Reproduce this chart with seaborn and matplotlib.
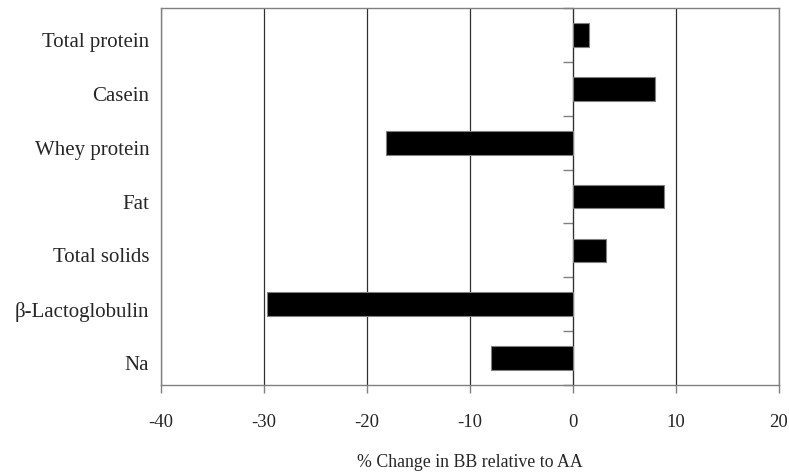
import matplotlib
matplotlib.use('Agg')
import matplotlib.pyplot as plt
import matplotlib.transforms as mtransforms
import seaborn as sns
import pandas as pd
import numpy as np

categories = ['Total protein', 'Casein', 'Whey protein', 'Fat', 'Total solids',
              'β-Lactoglobulin', 'Na']
pct_change = [1.6, 8.0, -18.1, 8.9, 3.2, -29.7, -7.9]
x_ticks = [-40, -30, -20, -10, 0, 10, 20]

df = pd.DataFrame({'component': categories, 'change': pct_change})

sns.set_style('white')
plt.rcParams['font.family'] = ['Liberation Serif', 'DejaVu Serif']

fig = plt.figure(figsize=(7.89, 4.73), dpi=100)
ax = fig.add_axes([0.204, 0.186, 0.783, 0.797])

sns.barplot(data=df, x='change', y='component', orient='h', color='black',
            width=0.44, edgecolor='#808080', linewidth=0.8, saturation=1, ax=ax, zorder=3)

ax.set_xlim(-40, 20)
ax.set_ylim(len(categories) - 0.5, -0.5)
ax.set_xticks(x_ticks)
ax.set_xticklabels([str(v) for v in x_ticks])
ax.xaxis.grid(True, color='#303030', linewidth=0.9, zorder=0)
ax.yaxis.grid(False)

for s in ax.spines.values():
    s.set_visible(True)
    s.set_color('#808080')
    s.set_linewidth(1.0)

ax.tick_params(axis='x', which='major', direction='out', length=6, width=1,
               color='#808080', labelsize=13.5, pad=15, bottom=True)
ax.tick_params(axis='y', which='major', length=0, labelsize=15, pad=8.5)
ax.set_xlabel('% Change in BB relative to AA', fontsize=12.8, labelpad=16.5)
ax.set_ylabel('')

# labels sit a little below the bar centres in the original
offset = mtransforms.ScaledTranslation(0, -5 / 100, fig.dpi_scale_trans)
for lab in ax.get_yticklabels():
    lab.set_transform(lab.get_transform() + offset)

# y axis drawn at x = 0 with ticks between categories
zero_pos = (0 - x_ticks[0]) / (x_ticks[-1] - x_ticks[0])
sec = ax.secondary_yaxis(zero_pos)
sec.set_yticks(np.arange(-0.5, len(categories), 1.0))
sec.set_yticklabels([])
sec.spines['left'].set_color('#808080')
sec.spines['left'].set_linewidth(1.0)
sec.tick_params(axis='y', direction='in', length=7, width=1, color='#808080')

fig.savefig('out.png', dpi=100)
